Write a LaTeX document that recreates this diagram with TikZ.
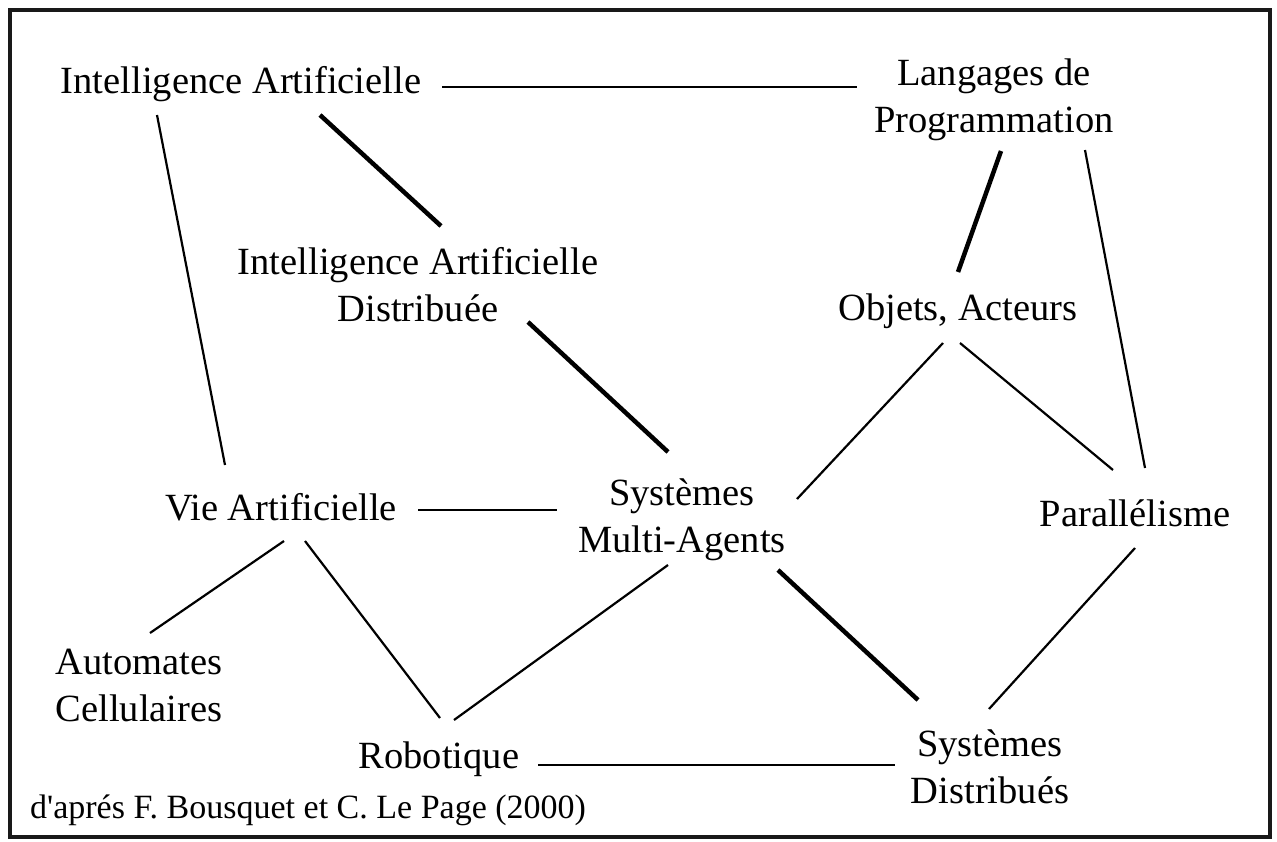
\documentclass[tikz,border=0pt]{standalone}
\usepackage{fontspec}
\setmainfont{Liberation Serif}[Ligatures=TeXOff]
\usetikzlibrary{calc}
\tikzset{
  lbl/.style={font=\fontsize{38.5}{47}\selectfont, align=center, inner sep=0pt},
  link/.style={line width=2.2pt, black},
  heavy/.style={line width=4.5pt, black}
}
\begin{document}
\begin{tikzpicture}[x=1pt,y=-1pt]
      \useasboundingbox (0,0) rectangle (1277,841);
      %cornice
      \draw[line width=3.2pt,black!90] (10,10) rectangle (1270,837);
      %nodi
      \node[lbl] (ia) at (241,84) {Intelligence Artificielle};
      \node[lbl] (lp) at (994,100) {Langages de\\Programmation};
      \node[lbl] (iad) at (418,285) {Intelligence Artificielle\\Distribuée};
      \node[lbl] (oa) at (958,311) {Objets, Acteurs};
      \node[lbl] (va) at (281,507) {Vie Artificielle};
      \node[lbl] (sma) at (682,520) {Systèmes\\Multi-Agents};
      \node[lbl] (par) at (1135,513) {Parallélisme};
      \node[lbl] (ac) at (139,685) {Automates\\Cellulaires};
      \node[lbl] (rob) at (439,759) {Robotique};
      \node[lbl] (sd) at (990,767) {Systèmes\\Distribués};
      \node[lbl,font=\fontsize{34}{40}\selectfont,anchor=base west] (src) at (30,818) {d'aprés F. Bousquet et C. Le Page (2000)};
      %collegamenti
      \draw[link] ($(ia)+(201,3)$) -- ($(lp)+(-137,-13)$);
      \draw[heavy] ($(ia)+(79,31)$) -- ($(iad)+(23,-59)$);
      \draw[link] ($(ia)+(-84,31)$) -- ($(va)+(-56,-42)$);
      \draw[heavy] ($(lp)+(7,51)$) -- ($(oa)+(0,-39)$);
      \draw[link] ($(lp)+(91,50)$) -- ($(par)+(10,-45)$);
      \draw[heavy] ($(iad)+(110,37)$) -- ($(sma)+(-14,-68)$);
      \draw[link] ($(oa)+(-15,32)$) -- ($(sma)+(115,-21)$);
      \draw[link] ($(oa)+(2,32)$) -- ($(par)+(-22,-43)$);
      \draw[link] ($(va)+(137,3)$) -- ($(sma)+(-125,-10)$);
      \draw[link] ($(va)+(3,34)$) -- ($(ac)+(11,-52)$);
      \draw[link] ($(va)+(24,34)$) -- ($(rob)+(1,-41)$);
      \draw[link] ($(sma)+(-14,45)$) -- ($(rob)+(15,-39)$);
      \draw[heavy] ($(sma)+(96,50)$) -- ($(sd)+(-72,-67)$);
      \draw[link] ($(par)+(0,35)$) -- ($(sd)+(-1,-58)$);
      \draw[link] ($(rob)+(99,6)$) -- ($(sd)+(-95,-2)$);
\end{tikzpicture}
\end{document}
